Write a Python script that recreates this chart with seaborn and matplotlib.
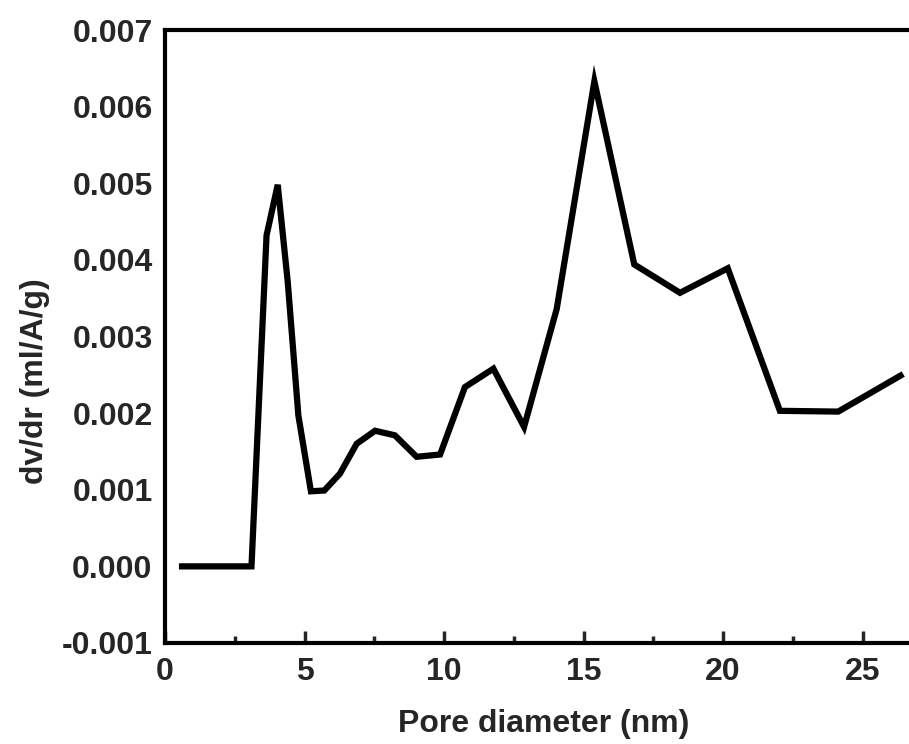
import numpy as np
import pandas as pd
import matplotlib
matplotlib.use("Agg")
import matplotlib.pyplot as plt
import seaborn as sns
from matplotlib.ticker import MultipleLocator

# data
pore_diameter = [0.5, 3.1, 3.64, 4.04, 4.40, 4.78, 5.23, 5.71, 6.27, 6.87, 7.53,
                 8.24, 9.02, 9.86, 10.75, 11.77, 12.87, 14.04, 15.39, 16.82,
                 18.46, 20.17, 22.04, 24.13, 26.46]
dvdr = [0.0, 0.0, 0.00432, 0.00498, 0.00371, 0.00197, 0.00098, 0.00099,
        0.00121, 0.00160, 0.00177, 0.00171, 0.00143, 0.00146, 0.00234,
        0.00258, 0.00182, 0.00336, 0.00633, 0.00394, 0.00357, 0.00389,
        0.00203, 0.00202, 0.00251]
x_ticks = [0, 5, 10, 15, 20, 25]
y_ticks = [-0.001, 0.000, 0.001, 0.002, 0.003, 0.004, 0.005, 0.006, 0.007]
y_ticklabels = ["-0.001", "0.000", "0.001", "0.002", "0.003", "0.004",
                "0.005", "0.006", "0.007"]

df = pd.DataFrame({"Pore diameter (nm)": pore_diameter, "dv/dr (ml/A/g)": dvdr})

sns.set_style("ticks")
plt.rcParams["font.family"] = ["Liberation Sans", "DejaVu Sans"]
plt.rcParams["font.weight"] = "bold"

fig = plt.figure(figsize=(9.09, 7.44), dpi=100)
W, H = 909, 744
left, right, top, bottom = 165, 909, 30, 643
ax = fig.add_axes([left / W, 1 - bottom / H, (right - left) / W, (bottom - top) / H])

sns.lineplot(data=df, x="Pore diameter (nm)", y="dv/dr (ml/A/g)", ax=ax,
             color="black", linewidth=4.5, sort=False, estimator=None)
for ln in ax.get_lines():
    ln.set_solid_joinstyle("miter")
    ln.set_solid_capstyle("butt")

ax.set_xlim(0, (right - left) / 27.9)
ax.set_ylim(-0.001, 0.007)

ax.set_xticks(x_ticks)
ax.set_xticklabels([str(t) for t in x_ticks])
ax.xaxis.set_minor_locator(MultipleLocator(2.5))
ax.set_yticks(y_ticks)
ax.set_yticklabels(y_ticklabels)

for s in ["left", "bottom", "top"]:
    ax.spines[s].set_linewidth(3)
    ax.spines[s].set_color("black")
ax.spines["right"].set_visible(False)

ax.tick_params(axis="x", which="major", direction="in", length=9, width=2.5,
               pad=10, labelsize=23, top=False)
ax.tick_params(axis="x", which="minor", direction="in", length=5, width=2.5, top=False)
ax.tick_params(axis="y", which="both", length=0, pad=9, labelsize=23)
for lab in ax.get_xticklabels() + ax.get_yticklabels():
    lab.set_fontweight("bold")

ax.set_xlabel("Pore diameter (nm)", fontsize=23, fontweight="bold")
ax.set_ylabel("dv/dr (ml/A/g)", fontsize=23, fontweight="bold")
ax.xaxis.set_label_coords(0.5 + 7 / 744, -0.108)
ax.yaxis.set_label_coords(-0.155, 0.5 - 45 / 613)

fig.savefig("out.png", dpi=100)
